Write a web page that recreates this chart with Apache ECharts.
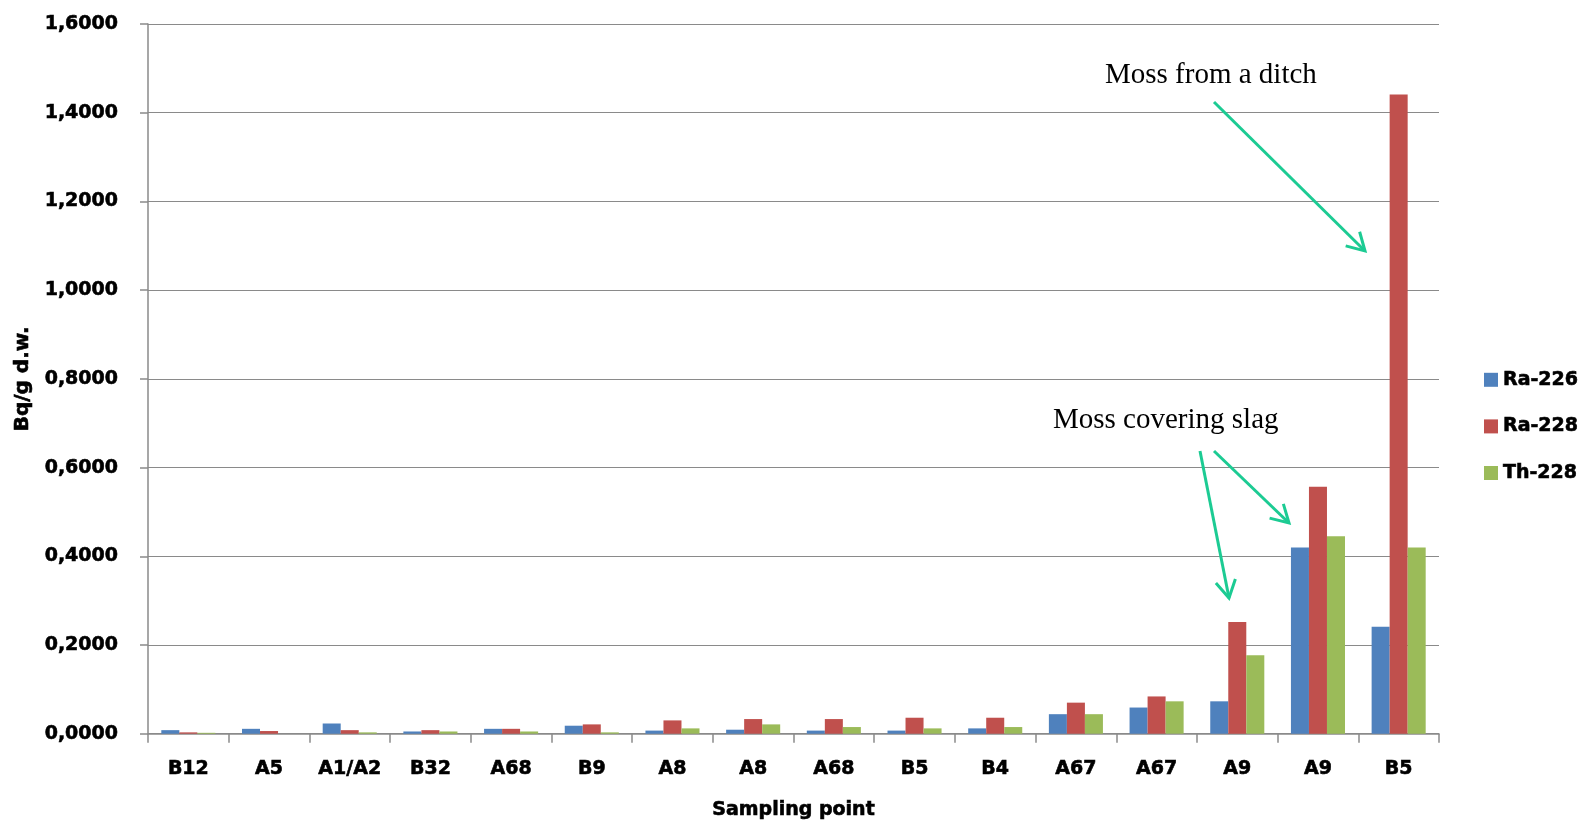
<!DOCTYPE html>
<html>
<head>
<meta charset="utf-8">
<script src="https://cdn.jsdelivr.net/npm/echarts@6/dist/echarts.min.js"></script>
<style>
html,body{margin:0;padding:0;background:#fff;}
#chart{width:1586px;height:825px;}
</style>
</head>
<body>
<div id="chart"></div>
<script>
const categories = ['B12','A5','A1/A2','B32','A68','B9','A8','A8','A68','B5','B4','A67','A67','A9','A9','B5'];
const ra226 = [0.008,0.011,0.023,0.005,0.011,0.018,0.007,0.009,0.007,0.007,0.012,0.044,0.059,0.073,0.420,0.241];
const ra228 = [0.003,0.006,0.008,0.008,0.011,0.021,0.030,0.033,0.033,0.036,0.036,0.070,0.084,0.252,0.557,1.441];
const th228 = [0.002,0.000,0.003,0.005,0.005,0.003,0.012,0.021,0.015,0.012,0.015,0.044,0.073,0.177,0.445,0.420];
const seriesNames = ['Ra-226','Ra-228','Th-228'];
const yTicks = {min:0, max:1.6, interval:0.2};

const FONT = '"DejaVu Sans"';
const gridColor = '#8a8a8a';
const thick = {textBorderColor:'#000', textBorderWidth:0.6};

const chart = echarts.init(document.getElementById('chart'));

function arrow(x1,y1,x2,y2,color){
  const ang = Math.atan2(y2-y1,x2-x1);
  const L = 20, a = 0.52;
  const p1 = [x2 - L*Math.cos(ang-a), y2 - L*Math.sin(ang-a)];
  const p2 = [x2 - L*Math.cos(ang+a), y2 - L*Math.sin(ang+a)];
  return [
    {type:'line', shape:{x1:x1,y1:y1,x2:x2,y2:y2}, style:{stroke:color,lineWidth:3}, z:100},
    {type:'polyline', shape:{points:[p1,[x2,y2],p2]}, style:{stroke:color,lineWidth:3,fill:null}, z:100}
  ];
}
const arrowColor = '#1ccb93';

chart.setOption({
  animation:false,
  backgroundColor:'#fff',
  color:['#4f81bd','#c0504d','#9bbb59'],
  grid:{left:148,right:147,top:24,bottom:89,containLabel:false},
  legend:{
    orient:'vertical', left:1479, top:365,
    itemWidth:14, itemHeight:14, itemGap:27,
    icon:'rect',
    textStyle:Object.assign({fontFamily:FONT,fontWeight:'bold',fontSize:19,color:'#000'},thick),
    data:seriesNames
  },
  xAxis:{
    type:'category', data:categories,
    name:'Sampling point', nameLocation:'middle', nameGap:67,
    nameTextStyle:Object.assign({fontFamily:FONT,fontWeight:'bold',fontSize:19,color:'#000'},thick),
    axisLine:{lineStyle:{color:gridColor,width:1.5}},
    axisTick:{show:true,length:9,lineStyle:{color:gridColor,width:1.5}},
    axisLabel:Object.assign({fontFamily:FONT,fontWeight:'bold',fontSize:19,color:'#000',margin:26,interval:0},thick)
  },
  yAxis:{
    type:'value', min:yTicks.min, max:yTicks.max, interval:yTicks.interval,
    name:'Bq/g d.w.', nameLocation:'middle', nameGap:110, nameRotate:90,
    nameTextStyle:Object.assign({fontFamily:FONT,fontWeight:'bold',fontSize:20,color:'#000'},thick),
    axisLine:{show:true,lineStyle:{color:gridColor,width:1.5}},
    axisTick:{show:true,length:8,lineStyle:{color:gridColor,width:1.5}},
    splitLine:{lineStyle:{color:gridColor,width:1.2}},
    axisLabel:Object.assign({fontFamily:FONT,fontWeight:'bold',fontSize:19,color:'#000',margin:30,
      formatter:v=>v.toFixed(4).replace('.',',')},thick)
  },
  series:[
    {name:seriesNames[0],type:'bar',data:ra226,barGap:'0%',barCategoryGap:'33%'},
    {name:seriesNames[1],type:'bar',data:ra228,barGap:'0%',barCategoryGap:'33%'},
    {name:seriesNames[2],type:'bar',data:th228,barGap:'0%',barCategoryGap:'33%'}
  ],
  graphic:[
    {type:'text', x:1105, y:75, style:{text:'Moss from a ditch', font:'29px "Liberation Serif"', fill:'#000', verticalAlign:'middle', align:'left'}, z:100},
    {type:'text', x:1053, y:420, style:{text:'Moss covering slag', font:'29px "Liberation Serif"', fill:'#000', verticalAlign:'middle', align:'left'}, z:100}
  ].concat(
    arrow(1214,102,1365,251,arrowColor),
    arrow(1200,451,1229,598,arrowColor),
    arrow(1214,451,1289,523,arrowColor)
  )
});
</script>
</body>
</html>
